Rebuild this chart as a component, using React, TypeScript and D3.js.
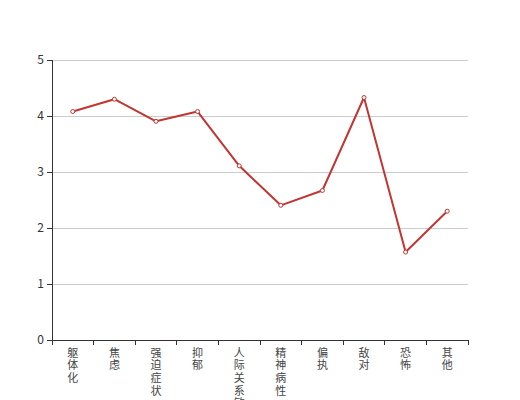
import React, { useEffect, useRef } from "react";
import * as d3 from "d3";

const categories = ["躯体化", "焦虑", "强迫症状", "抑郁", "人际关系敏感", "精神病性", "偏执", "敌对", "恐怖", "其他"];
const values = [4.08, 4.3, 3.905, 4.08, 3.11, 2.405, 2.67, 4.33, 1.57, 2.3];
const yTicks = [0, 1, 2, 3, 4, 5];

const W = 520, H = 400;
const M = { left: 52, right: 52, top: 60, bottom: 60 };

export default function App() {
  const ref = useRef<SVGSVGElement>(null);
  useEffect(() => {
    const svg = d3.select(ref.current);
    svg.selectAll("*").remove();
    const x = d3.scaleBand().domain(categories).range([M.left, W - M.right]);
    const y = d3.scaleLinear().domain([0, 5]).range([H - M.bottom, M.top]);
    const font = "'Noto Sans CJK SC', 'Noto Sans', sans-serif";

    // grid lines
    svg.append("g").selectAll("line").data(yTicks.filter(t => t > 0)).join("line")
      .attr("x1", M.left).attr("x2", W - M.right)
      .attr("y1", d => y(d)).attr("y2", d => y(d))
      .attr("stroke", "#ccc").attr("stroke-width", 1).attr("shape-rendering", "crispEdges");

    // y axis
    const ya = svg.append("g");
    ya.append("line").attr("x1", M.left).attr("x2", M.left).attr("y1", y(0)).attr("y2", y(5))
      .attr("stroke", "#333").attr("shape-rendering", "crispEdges");
    ya.selectAll("line.t").data(yTicks).join("line").attr("class", "t")
      .attr("x1", M.left - 5).attr("x2", M.left).attr("y1", d => y(d)).attr("y2", d => y(d))
      .attr("stroke", "#333").attr("shape-rendering", "crispEdges");
    ya.selectAll("text").data(yTicks).join("text")
      .attr("x", M.left - 8).attr("y", d => y(d)).attr("dy", "0.35em")
      .attr("text-anchor", "end").attr("font-size", 12).attr("fill", "#333")
      .attr("font-family", font).text(d => String(d));

    // x axis
    const xa = svg.append("g");
    xa.append("line").attr("x1", M.left).attr("x2", W - M.right).attr("y1", y(0)).attr("y2", y(0))
      .attr("stroke", "#333").attr("shape-rendering", "crispEdges");
    const bounds = categories.map(c => x(c)!).concat([W - M.right]);
    xa.selectAll("line.t").data(bounds).join("line").attr("class", "t")
      .attr("x1", d => d).attr("x2", d => d).attr("y1", y(0)).attr("y2", y(0) + 5)
      .attr("stroke", "#333").attr("shape-rendering", "crispEdges");
    const lbl = xa.selectAll("text").data(categories).join("text")
      .attr("x", d => x(d)! + x.bandwidth() / 2).attr("y", y(0) + 8)
      .attr("text-anchor", "middle").attr("font-size", 11).attr("fill", "#444")
      .attr("font-family", font);
    lbl.each(function (d) {
      const t = d3.select(this);
      Array.from(d).forEach((ch, i) => {
        t.append("tspan").attr("x", x(d)! + x.bandwidth() / 2)
          .attr("y", y(0) + 16.7 + i * 12.6).text(ch);
      });
    });

    // line
    const line = d3.line<number>().x((_, i) => x(categories[i])! + x.bandwidth() / 2).y(d => y(d));
    svg.append("path").datum(values).attr("d", line).attr("fill", "none")
      .attr("stroke", "#c23531").attr("stroke-width", 2).attr("stroke-linejoin", "round");
    svg.append("g").selectAll("circle").data(values).join("circle")
      .attr("cx", (_, i) => x(categories[i])! + x.bandwidth() / 2).attr("cy", d => y(d))
      .attr("r", 2).attr("fill", "#fff").attr("stroke", "#c23531").attr("stroke-width", 1);
  }, []);
  return (
    <div style={{ position: "absolute", left: 0, top: 0 }}>
      <svg ref={ref} width={W} height={H} style={{ display: "block" }} />
    </div>
  );
}
